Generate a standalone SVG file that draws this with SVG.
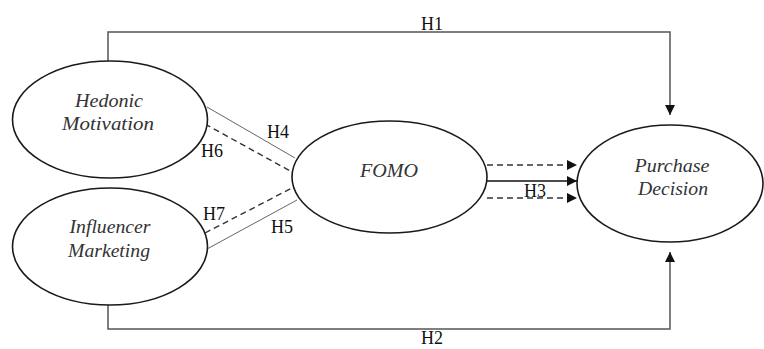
<svg xmlns="http://www.w3.org/2000/svg" width="764" height="349" viewBox="0 0 764 349">
<style>
.node ellipse{fill:#fff;stroke:#1a1a1a;stroke-width:1.6}
.lbl{font-family:"Liberation Serif",serif;font-style:italic;font-size:19px;fill:#333;text-anchor:middle}
.h{font-family:"Liberation Serif",serif;font-size:18px;fill:#111;text-anchor:middle}
.path{fill:none;stroke:#555;stroke-width:1.5}
.thin{fill:none;stroke:#666;stroke-width:1}
.dash{fill:none;stroke:#333;stroke-width:1.4;stroke-dasharray:6,4}
.solid{fill:none;stroke:#111;stroke-width:1.6}
</style>
<defs>
<marker id="ah" viewBox="0 0 10 10" refX="10" refY="5" markerWidth="10" markerHeight="10" markerUnits="userSpaceOnUse" orient="auto">
<path d="M0,0 L10,5 L0,10 Z" fill="#111"/>
</marker>
</defs>
<rect width="764" height="349" fill="#fff"/>
<g id="connectors">
<path class="path" d="M108,61 V32 H670 V115" marker-end="url(#ah)"/>
<path class="path" d="M108,305 V329 H670 V252" marker-end="url(#ah)"/>
<line class="thin" x1="207" y1="107" x2="295" y2="158"/>
<line class="dash" x1="205" y1="124" x2="292" y2="172"/>
<line class="dash" x1="205" y1="233" x2="292" y2="188"/>
<line class="thin" x1="207" y1="249" x2="297" y2="200"/>
<line class="dash" x1="487" y1="165" x2="577" y2="165" marker-end="url(#ah)"/>
<line class="solid" x1="487" y1="181" x2="577" y2="181" marker-end="url(#ah)"/>
<line class="dash" x1="487" y1="198" x2="577" y2="198" marker-end="url(#ah)"/>
<text class="h" x="432" y="30">H1</text>
<text class="h" x="432" y="344">H2</text>
<text class="h" x="535" y="197">H3</text>
<text class="h" x="278" y="138">H4</text>
<text class="h" x="282" y="233">H5</text>
<text class="h" x="212" y="157">H6</text>
<text class="h" x="214" y="220">H7</text>
</g>
<g id="hedonic" class="node">
<ellipse cx="110" cy="119.5" rx="97.5" ry="58.5"/>
<text class="lbl" x="109" y="107" textLength="68" lengthAdjust="spacingAndGlyphs">Hedonic</text>
<text class="lbl" x="108" y="130" textLength="92" lengthAdjust="spacingAndGlyphs">Motivation</text>
</g>
<g id="influencer" class="node">
<ellipse cx="110" cy="246.5" rx="97.5" ry="58.5"/>
<text class="lbl" x="110" y="233" textLength="81" lengthAdjust="spacingAndGlyphs">Influencer</text>
<text class="lbl" x="109" y="257" textLength="82" lengthAdjust="spacingAndGlyphs">Marketing</text>
</g>
<g id="fomo" class="node">
<ellipse cx="389.5" cy="177" rx="97.5" ry="56"/>
<text class="lbl" x="389" y="177" textLength="58" lengthAdjust="spacingAndGlyphs">FOMO</text>
</g>
<g id="purchase" class="node">
<ellipse cx="670" cy="183.5" rx="93" ry="58.5"/>
<text class="lbl" x="672" y="172" textLength="75" lengthAdjust="spacingAndGlyphs">Purchase</text>
<text class="lbl" x="673" y="195" textLength="70" lengthAdjust="spacingAndGlyphs">Decision</text>
</g>
</svg>
